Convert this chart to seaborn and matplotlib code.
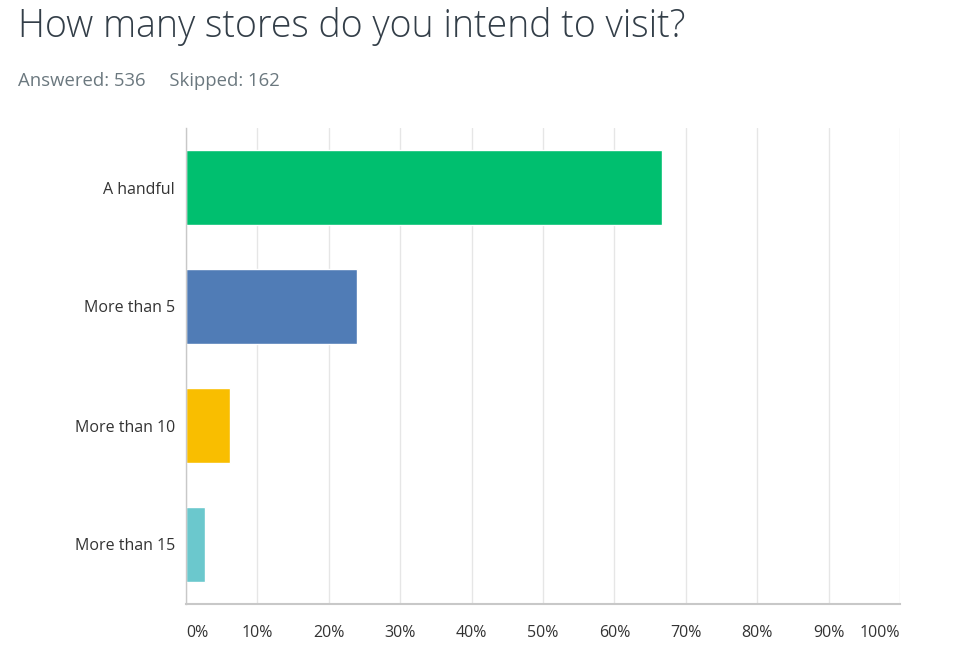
import matplotlib
matplotlib.use("Agg")
import matplotlib.pyplot as plt
import seaborn as sns
import pandas as pd

categories = ["A handful", "More than 5", "More than 10", "More than 15"]
values = [66.6, 23.9, 6.2, 2.6]
colors = ["#00BF6F", "#507CB6", "#F9BE00", "#6BC8CD"]
xticks = list(range(0, 101, 10))
xtick_labels = [f"{t}%" for t in xticks]

sns.set_theme(style="white")
plt.rcParams['font.family'] = ['Open Sans', 'DejaVu Sans']

df = pd.DataFrame({"cat": categories, "val": values})

fig = plt.figure(figsize=(9.6, 6.55), dpi=100)
ax = fig.add_axes([186/960, 1 - 604/655, (900-186)/960, (604-128)/655])

sns.barplot(data=df, y="cat", x="val", hue="cat", palette=colors, legend=False,
            orient="h", width=0.63, ax=ax, saturation=1)

ax.set_xlim(0, 100)
ax.set_ylim(3.5, -0.5)
ax.set_xticks(xticks)
ax.set_xticklabels(xtick_labels)
ax.set_xlabel("")
ax.set_ylabel("")
ax.grid(axis="x", color="#e6e6e6", linewidth=1)
ax.set_axisbelow(True)
for s in ["top", "right"]:
    ax.spines[s].set_visible(False)
ax.spines["left"].set_color("#c8c8c8")
ax.spines["bottom"].set_color("#c8c8c8")
ax.spines["bottom"].set_linewidth(1.5)
ax.spines["left"].set_linewidth(1)
ax.tick_params(axis="x", length=0, pad=15, labelsize=11.5, labelcolor="#333333")
ax.tick_params(axis="y", length=0, pad=8, labelsize=11.5, labelcolor="#333333")
labels = ax.get_xticklabels()
labels[0].set_ha("left")
labels[-1].set_ha("right")

fig.text(18/960, 1 - 26/655, "How many stores do you intend to visit?", fontsize=27,
         color="#333e48", va="center", ha="left", fontweight="light")
fig.text(18/960, 1 - 81/655, "Answered: 536     Skipped: 162", fontsize=13.3,
         color="#6b787f", va="center", ha="left")

fig.savefig("out.png", dpi=100)
